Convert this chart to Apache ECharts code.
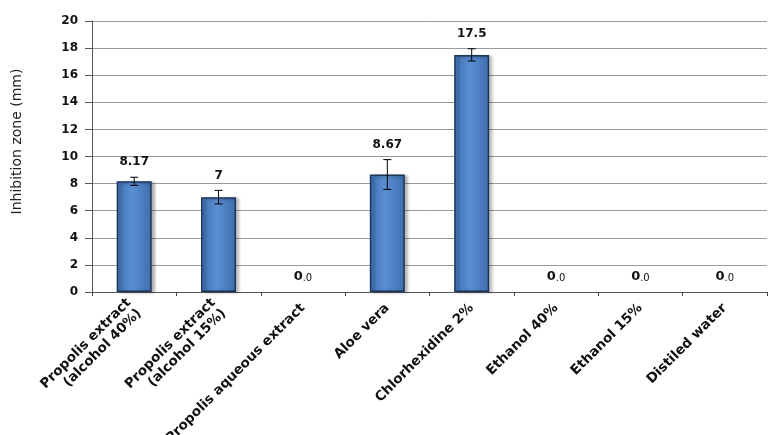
<!DOCTYPE html>
<html><head><meta charset="utf-8">
<script src="https://cdn.jsdelivr.net/npm/echarts@6/dist/echarts.min.js"></script>
<style>html,body{margin:0;padding:0;background:#fff}#c{width:771px;height:435px}</style>
</head><body><div id="c"></div>
<script>
const categories = ['Propolis extract\n(alcohol 40%)', 'Propolis extract\n(alcohol 15%)', 'Propolis aqueous extract', 'Aloe vera', 'Chlorhexidine 2%', 'Ethanol 40%', 'Ethanol 15%', 'Distiled water'];
const values = [8.17, 7, 0, 8.67, 17.5, 0, 0, 0];
const errors = [0.3, 0.5, 0, 1.1, 0.45, 0, 0, 0];
const valueLabels = ['8.17', '7', '0.0', '8.67', '17.5', '0.0', '0.0', '0.0'];
const yTicks = [0, 2, 4, 6, 8, 10, 12, 14, 16, 18, 20];

const FONT = 'DejaVu Sans';
const barStyle = {
  color: new echarts.graphic.LinearGradient(0, 0, 1, 0, [
    { offset: 0, color: '#4272b4' }, { offset: 0.45, color: '#5a8fd3' }, { offset: 1, color: '#3f6dad' }
  ]),
  borderColor: '#1a3558', borderWidth: 1.5,
  shadowColor: 'rgba(0,0,0,0.3)', shadowOffsetX: 3, shadowOffsetY: 1, shadowBlur: 3
};
const chart = echarts.init(document.getElementById('c'));
chart.setOption({
  animation: false,
  grid: { left: 92, right: 4, top: 21, bottom: 143, containLabel: false, outerBoundsMode: 'none' },
  xAxis: {
    type: 'category', data: categories, boundaryGap: true,
    axisLine: { lineStyle: { color: '#555', width: 1 } },
    axisTick: { show: true, interval: 0, length: 4, lineStyle: { color: '#444' } },
    axisLabel: { interval: 0, rotate: 45, margin: 14, fontFamily: FONT, fontWeight: 'bold', fontSize: 13.5, color: '#111', lineHeight: 15 }
  },
  yAxis: {
    type: 'value', min: yTicks[0], max: yTicks[yTicks.length - 1], interval: 2,
    name: 'Inhibition zone (mm)', nameLocation: 'middle', nameGap: 68,
    nameTextStyle: { fontFamily: FONT, fontSize: 14, color: '#222', padding: [0, 0, 0, 30] },
    axisLine: { show: true, lineStyle: { color: '#555', width: 1 } },
    axisTick: { show: true, length: 7, lineStyle: { color: '#555' } },
    axisLabel: { margin: 14, fontFamily: FONT, fontWeight: 'bold', fontSize: 12, color: '#111' },
    splitLine: { lineStyle: { color: '#9a9a9a', width: 1 } }
  },
  series: [
    {
      type: 'bar', barWidth: 35,
      data: values.map(v => v === 0 ? { value: v, itemStyle: { borderWidth: 0, shadowBlur: 0, shadowOffsetX: 0, shadowOffsetY: 0, opacity: 0 } } : v),
      itemStyle: barStyle
    },
    {
      type: 'custom', z: 10,
      data: values.map((v, i) => [i, v, errors[i]]),
      renderItem: function (params, api) {
        const i = api.value(0), v = api.value(1), e = api.value(2);
        const top = api.coord([i, v + e]);
        const bot = api.coord([i, v - e]);
        const children = [];
        if (e > 0) {
          const cap = 4;
          const st = { stroke: '#000', lineWidth: 1 };
          children.push({ type: 'line', shape: { x1: top[0], y1: top[1], x2: bot[0], y2: bot[1] }, style: st });
          children.push({ type: 'line', shape: { x1: top[0] - cap, y1: top[1], x2: top[0] + cap, y2: top[1] }, style: st });
          children.push({ type: 'line', shape: { x1: bot[0] - cap, y1: bot[1], x2: bot[0] + cap, y2: bot[1] }, style: st });
        }
        const isZero = v === 0;
        children.push({
          type: 'text',
          style: {
            x: top[0], y: top[1] - 15,
            text: isZero ? '{a|0}{b|.0}' : valueLabels[i],
            align: 'center', verticalAlign: 'middle',
            fontFamily: FONT, fontWeight: 'bold', fontSize: 12, fill: '#111',
            rich: {
              a: { fontFamily: FONT, fontWeight: 'bold', fontSize: 13, color: '#222' },
              b: { fontFamily: FONT, fontSize: 10, color: '#333', padding: [3, 0, 0, 0] }
            }
          }
        });
        return { type: 'group', children: children };
      }
    }
  ]
});
</script></body></html>
